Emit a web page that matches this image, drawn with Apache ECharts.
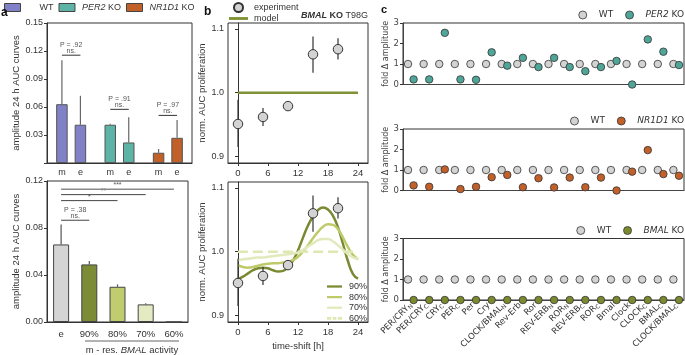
<!DOCTYPE html>
<html>
<head>
<meta charset="utf-8">
<script src="https://cdn.jsdelivr.net/npm/echarts@6/dist/echarts.min.js"></script>
<style>
  html, body { margin: 0; padding: 0; background: #fff; }
  #main { width: 685px; height: 355px; }
</style>
</head>
<body>
<div id="main"></div>
<script>
// ---- panel a, top: amplitude of 24 h AUC curves (m = model, e = experiment)
var genotypes = ['WT', 'PER2 KO', 'NR1D1 KO'];
var genoColors = ['#8081c7', '#5db4a6', '#c2602a'];
var ampModel = [0.063, 0.041, 0.011];
var ampExp = [0.041, 0.022, 0.027];
var ampModelTop = [0.110, 0.042, 0.015];
var ampExpTop = [0.072, 0.049, 0.046];
var ampPvals = ['P = .92', 'P = .91', 'P = .97'];
var ampBracketY = [0.1155, 0.0575, 0.051];

// ---- panel a, bottom: residual BMAL activity
var bmalCats = ['e', '90%', '80%', '70%', '60%'];
var bmalColors = ['#d4d4d4', '#7c8b35', '#c1cc6e', '#e4ebc2', '#ffffff'];
var bmalAmp = [0.066, 0.049, 0.030, 0.015, 0];
var bmalAmpTop = [0.083, 0.052, 0.032, 0.016, 0];
var bmalSigFrom = [0, 0, 0, 0];
var bmalSigTo = [1, 2, 3, 4];
var bmalSigY = [0.0866, 0.1033, 0.1084, 0.113];
var bmalSigText = ['ns.', '*', '**', '***'];

// ---- panel b: BMAL KO T98G proliferation
var expTime = [0, 5, 10, 15, 20];
var expMean = [0.951, 0.962, 0.979, 1.060, 1.068];
var expLow = [0.915, 0.948, 0.976, 1.031, 1.052];
var expHigh = [0.989, 0.976, 0.982, 1.088, 1.085];
var modelTime = [0, 24];
var modelValue = [1.0, 1.0];
var curveTime = [0, 1, 2, 3, 4, 5, 6, 7, 8, 9, 10, 11, 12, 13, 14, 15, 16, 17, 18, 19, 20, 21, 22, 23, 24];
var curve90 = [0.957, 0.961, 0.966, 0.971, 0.974, 0.975, 0.974, 0.971, 0.969, 0.970, 0.976, 0.986, 1.002, 1.022, 1.041, 1.055, 1.065, 1.069, 1.066, 1.056, 1.038, 1.012, 0.985, 0.965, 0.958];
var curve80 = [0.979, 0.976, 0.975, 0.976, 0.978, 0.980, 0.981, 0.982, 0.982, 0.983, 0.984, 0.987, 0.992, 1.000, 1.010, 1.021, 1.031, 1.039, 1.043, 1.042, 1.035, 1.022, 1.007, 0.995, 0.988];
var curve70 = [0.986, 0.988, 0.989, 0.990, 0.991, 0.991, 0.992, 0.993, 0.994, 0.995, 0.996, 0.997, 0.999, 1.003, 1.008, 1.013, 1.018, 1.020, 1.020, 1.016, 1.010, 1.003, 0.996, 0.991, 0.989];
var curve60Time = [0, 24];
var curve60 = [1.0, 1.0];
var timeTicks = [0, 6, 12, 18, 24];
var normTicks = [0.9, 1.0, 1.1];

// ---- panel c: fold change of amplitude per model variable
var clockCats = ['PER/CRY_N', 'PER/CRY_C', 'CRY_C', 'PER_C', 'Per', 'Cry', 'CLOCK/BMAL_N', 'Rev-Erb', 'Ror',
  'REV-ERB_N', 'ROR_N', 'REV-ERB_C', 'ROR_C', 'Bmal', 'Clock', 'CLOCK_C', 'BMAL_C', 'CLOCK/BMAL_C'];
var wtFold = [1, 1, 1, 1, 1, 1, 1, 1, 1, 1, 1, 1, 1, 1, 1, 1, 1, 1];
var per2Fold = [0.25, 0.25, 2.52, 0.25, 0.23, 1.57, 0.92, 1.3, 0.85, 1.3, 0.85, 0.65, 0.85, 1.15, 0, 2.2, 1.6, 0.95];
var nr1d1Fold = [0.25, 0.18, 1.03, 0.07, 0.18, 0.65, 0.76, 0.16, 0.6, 0.15, 0.63, 0.16, 0.63, 0, 0.92, 1.97, 0.8, 0.72];
var bmalFold = [0, 0, 0, 0, 0, 0, 0, 0, 0, 0, 0, 0, 0, 0, 0, 0, 0, 0];

var FA = 'Liberation Sans, Arial, sans-serif';
var FC = 'DejaVu Sans, Verdana, sans-serif';
var INK = '#333';
var BAR_W = 11.5;
var BAR_GAP = 7;
var LINE_ICON = 'path://M0,0 L20,0 L20,3 L0,3 Z';
var DASH_ICON = 'path://M0,0 L5.5,0 L5.5,3.6 L0,3.6 Z M7.5,0 L12.5,0 L12.5,3.6 L7.5,3.6 Z M14.5,0 L20,0 L20,3.6 L14.5,3.6 Z';

function pairs(xs, ys) {
  return xs.map(function (x, i) { return [x, ys[i]]; });
}

function subLabel(s) {
  var k = s.indexOf('_');
  return k < 0 ? s : s.slice(0, k) + '{sub|' + s.slice(k + 1) + '}';
}

function frameGrid(left, top, width, height) {
  return { left: left, top: top, width: width, height: height, show: true, borderColor: INK, borderWidth: 1, containLabel: false };
}

function valueY(idx, min, max, extra) {
  var ax = {
    type: 'value', gridIndex: idx, min: min, max: max,
    axisLine: { show: true, lineStyle: { color: INK } },
    axisTick: { show: true, length: 3, lineStyle: { color: INK } },
    axisLabel: { fontSize: 9, fontFamily: FA, color: INK, margin: 4 },
    splitLine: { show: false },
    nameLocation: 'middle', nameRotate: 90,
    nameTextStyle: { fontSize: 9.5, fontFamily: FA, color: INK }
  };
  return Object.assign(ax, extra || {});
}

// error bar drawn for grouped bars (m left, e right)
function groupedError(side) {
  return function (params, api) {
    var b = api.coord([api.value(0), api.value(1)]);
    var t = api.coord([api.value(0), api.value(2)]);
    var x = b[0] + side * (BAR_W + BAR_GAP) / 2;
    return { type: 'line', shape: { x1: x, y1: b[1], x2: x, y2: t[1] }, style: { stroke: '#666', lineWidth: 1.2 } };
  };
}

function simpleError(color) {
  return function (params, api) {
    var lo = api.coord([api.value(0), api.value(1)]);
    var hi = api.coord([api.value(0), api.value(2)]);
    return { type: 'line', shape: { x1: lo[0], y1: lo[1], x2: hi[0], y2: hi[1] }, style: { stroke: color, lineWidth: 1.2 } };
  };
}

var series = [];

// panel a top bars
series.push({
  type: 'bar', name: 'm', xAxisIndex: 0, yAxisIndex: 0, barWidth: BAR_W, barGap: (BAR_GAP / BAR_W * 100) + '%',
  data: ampModel, itemStyle: { color: function (p) { return genoColors[p.dataIndex]; }, borderColor: '#555', borderWidth: 1 },
  label: { show: true, position: 'bottom', distance: 5, formatter: 'm', fontSize: 9, fontFamily: FA, color: INK }
});
series.push({
  type: 'bar', name: 'e', xAxisIndex: 0, yAxisIndex: 0, barWidth: BAR_W,
  data: ampExp, itemStyle: { color: function (p) { return genoColors[p.dataIndex]; }, borderColor: '#555', borderWidth: 1 },
  label: { show: true, position: 'bottom', distance: 5, formatter: 'e', fontSize: 9, fontFamily: FA, color: INK }
});
series.push({
  type: 'custom', xAxisIndex: 0, yAxisIndex: 0, z: 1, renderItem: groupedError(-1),
  data: ampModel.map(function (v, i) { return [i, v, ampModelTop[i]]; })
});
series.push({
  type: 'custom', xAxisIndex: 0, yAxisIndex: 0, z: 1, renderItem: groupedError(1),
  data: ampExp.map(function (v, i) { return [i, v, ampExpTop[i]]; })
});
series.push({
  type: 'custom', xAxisIndex: 0, yAxisIndex: 0, z: 3,
  data: ampBracketY.map(function (y, i) { return [i, y]; }),
  renderItem: function (params, api) {
    var c = api.coord([api.value(0), api.value(1)]);
    var half = (BAR_W + BAR_GAP) / 2;
    return {
      type: 'group', children: [
        { type: 'line', shape: { x1: c[0] - half, y1: c[1], x2: c[0] + half, y2: c[1] }, style: { stroke: INK, lineWidth: 1 } },
        { type: 'text', x: c[0], y: c[1] - 0.5, style: { text: 'ns.', align: 'center', verticalAlign: 'bottom', fontSize: 7, fontFamily: FA, fill: '#555' } },
        { type: 'text', x: c[0], y: c[1] - 7, style: { text: ampPvals[params.dataIndex], align: 'center', verticalAlign: 'bottom', fontSize: 7, fontFamily: FA, fill: '#555' } }
      ]
    };
  }
});
// legend entries for panel a
genotypes.forEach(function (g, i) {
  series.push({ type: 'line', name: 'a-' + g, xAxisIndex: 0, yAxisIndex: 0, data: [], itemStyle: { color: genoColors[i] }, lineStyle: { color: genoColors[i] } });
});

// panel a bottom
series.push({
  type: 'bar', xAxisIndex: 1, yAxisIndex: 1, barWidth: 16, data: bmalAmp,
  itemStyle: { color: function (p) { return bmalColors[p.dataIndex]; }, borderColor: '#444', borderWidth: 1 }
});
series.push({
  type: 'custom', xAxisIndex: 1, yAxisIndex: 1, z: 1, renderItem: simpleError('#555'),
  data: bmalAmp.map(function (v, i) { return [i, v, bmalAmpTop[i]]; })
});
series.push({
  type: 'custom', xAxisIndex: 1, yAxisIndex: 1, z: 3,
  data: bmalSigY.map(function (y, i) { return [bmalSigFrom[i], y, bmalSigTo[i]]; }),
  renderItem: function (params, api) {
    var a = api.coord([api.value(0), api.value(1)]);
    var b = api.coord([api.value(2), api.value(1)]);
    var mid = (a[0] + b[0]) / 2;
    var kids = [
      { type: 'line', shape: { x1: a[0], y1: a[1], x2: b[0], y2: b[1] }, style: { stroke: params.dataIndex === 3 ? '#8a8a8a' : '#444', lineWidth: params.dataIndex === 3 ? 1.6 : 1 } },
      { type: 'text', x: mid, y: a[1] - 0.5, style: { text: bmalSigText[params.dataIndex], align: 'center', verticalAlign: 'bottom', fontSize: 7, fontFamily: FA, fill: '#555' } }
    ];
    if (params.dataIndex === 0) {
      kids.push({ type: 'text', x: mid, y: a[1] - 7, style: { text: 'P = .38', align: 'center', verticalAlign: 'bottom', fontSize: 7, fontFamily: FA, fill: '#555' } });
    }
    return { type: 'group', children: kids };
  }
});

// panel b top
series.push({
  type: 'line', name: 'model', xAxisIndex: 2, yAxisIndex: 2, data: pairs(modelTime, modelValue),
  symbol: 'none', lineStyle: { color: '#7f9236', width: 2.5 }, itemStyle: { color: '#7f9236' }
});
series.push({
  type: 'custom', xAxisIndex: 2, yAxisIndex: 2, z: 4, renderItem: simpleError(INK),
  data: expTime.map(function (t, i) { return [t, expLow[i], expHigh[i]]; })
});
series.push({
  type: 'scatter', name: 'experiment', xAxisIndex: 2, yAxisIndex: 2, z: 5, data: pairs(expTime, expMean),
  symbolSize: 9.5, itemStyle: { color: '#d3d3d3', borderColor: INK, borderWidth: 1, opacity: 1 }
});

// panel b bottom
var curveStyle = [
  ['90%', curveTime, curve90, '#7a8a33', 'solid'],
  ['80%', curveTime, curve80, '#bfcb6b', 'solid'],
  ['70%', curveTime, curve70, '#e2e9bc', 'solid'],
  ['60%', curve60Time, curve60, '#dfe7b3', 'dashed']
];
curveStyle.forEach(function (c) {
  series.push({
    type: 'line', name: c[0], xAxisIndex: 3, yAxisIndex: 3, data: pairs(c[1], c[2]), smooth: true,
    symbol: 'none', lineStyle: { color: c[3], width: 2.5, type: c[4] }, itemStyle: { color: c[3] }
  });
});
series.push({
  type: 'custom', xAxisIndex: 3, yAxisIndex: 3, z: 4, renderItem: simpleError(INK),
  data: expTime.map(function (t, i) { return [t, expLow[i], expHigh[i]]; })
});
series.push({
  type: 'scatter', name: 'experiment-b', xAxisIndex: 3, yAxisIndex: 3, z: 5, data: pairs(expTime, expMean),
  symbolSize: 9.5, itemStyle: { color: '#d3d3d3', borderColor: INK, borderWidth: 1, opacity: 1 }
});

// panel c
var koSets = [['PER2 KO', per2Fold, '#4fa597'], ['NR1D1 KO', nr1d1Fold, '#c2602a'], ['BMAL KO', bmalFold, '#7a8a2e']];
koSets.forEach(function (k, i) {
  series.push({
    type: 'scatter', name: 'WT', xAxisIndex: 4 + i, yAxisIndex: 4 + i, data: wtFold, symbolSize: 7.5, symbolOffset: [-2.8, 0],
    itemStyle: { color: '#d3d3d3', borderColor: INK, borderWidth: 0.8, opacity: 1 }, clip: false
  });
  series.push({
    type: 'scatter', name: k[0], xAxisIndex: 4 + i, yAxisIndex: 4 + i, data: k[1], symbolSize: 7.5, symbolOffset: [2.8, 0], z: 3,
    itemStyle: { color: k[2], borderColor: INK, borderWidth: 0.8, opacity: 1 }, clip: false
  });
});

var cGrids = [23, 129, 238.5];

var option = {
  animation: false,
  textStyle: { fontFamily: FA },
  grid: [
    frameGrid(47, 23, 145, 140),
    frameGrid(47, 181, 141, 141),
    frameGrid(228, 23, 140, 140),
    frameGrid(228, 182, 140, 140),
    frameGrid(403, cGrids[0], 281, 61.5),
    frameGrid(403, cGrids[1], 281, 61.5),
    frameGrid(403, cGrids[2], 281, 61.5)
  ],
  xAxis: [
    { type: 'category', gridIndex: 0, data: genotypes, axisLine: { lineStyle: { color: INK } }, axisTick: { show: false }, axisLabel: { show: false } },
    { type: 'category', gridIndex: 1, data: bmalCats, axisLine: { lineStyle: { color: INK } },
      axisTick: { alignWithLabel: true, length: 3, lineStyle: { color: INK } },
      axisLabel: { fontSize: 9.5, fontFamily: FA, color: INK, margin: 7 } },
    { type: 'value', gridIndex: 2, min: -2, max: 26, splitLine: { show: false }, axisLine: { lineStyle: { color: INK } },
      axisTick: { length: 3, customValues: timeTicks, lineStyle: { color: INK } },
      axisLabel: { customValues: timeTicks, fontSize: 9.5, fontFamily: FA, color: INK, margin: 5 } },
    { type: 'value', gridIndex: 3, min: -2, max: 26, splitLine: { show: false }, axisLine: { lineStyle: { color: INK } },
      axisTick: { length: 3, customValues: timeTicks, lineStyle: { color: INK } },
      axisLabel: { customValues: timeTicks, fontSize: 9.5, fontFamily: FA, color: INK, margin: 5 },
      name: 'time-shift [h]', nameLocation: 'middle', nameGap: 19, nameTextStyle: { fontSize: 9.5, fontFamily: FA, color: INK } }
  ].concat([4, 5, 6].map(function (g) {
    return {
      type: 'category', gridIndex: g, data: clockCats, axisLine: { lineStyle: { color: '#444' } },
      axisTick: { alignWithLabel: true, length: 3, interval: 0, lineStyle: { color: '#444' } },
      axisLabel: {
        show: g === 6, rotate: 45, interval: 0, fontSize: 8.5, fontFamily: FC, color: INK, margin: 4, formatter: subLabel,
        rich: { sub: { fontSize: 6, fontFamily: FC, color: INK, verticalAlign: 'bottom', padding: [4, 0, 0, 0] } }
      }
    };
  })),
  yAxis: [
    valueY(0, 0, 0.15, { interval: 0.03, name: 'amplitude 24 h AUC curves', nameGap: 22,
      axisLabel: { fontSize: 9, fontFamily: FA, color: INK, margin: 4, formatter: function (v) { return v === 0 ? '' : v.toFixed(2); } } }),
    valueY(1, 0, 0.12, { interval: 0.04, name: 'amplitude 24 h AUC curves', nameGap: 22,
      axisLabel: { fontSize: 9, fontFamily: FA, color: INK, margin: 4, formatter: function (v) { return v.toFixed(2); } } }),
    valueY(2, 0.89, 1.109, { name: 'norm. AUC proliferation', nameGap: 20,
      axisTick: { show: true, length: 3, customValues: normTicks, lineStyle: { color: INK } },
      axisLabel: { customValues: normTicks, fontSize: 9, fontFamily: FA, color: INK, margin: 4, formatter: function (v) { return v.toFixed(1); } } }),
    valueY(3, 0.89, 1.109, { name: 'norm. AUC proliferation', nameGap: 20,
      axisTick: { show: true, length: 3, customValues: normTicks, lineStyle: { color: INK } },
      axisLabel: { customValues: normTicks, fontSize: 9, fontFamily: FA, color: INK, margin: 4, formatter: function (v) { return v.toFixed(1); } } })
  ].concat([4, 5, 6].map(function (g) {
    return valueY(g, 0, 3, { interval: 1, name: 'fold \u0394 amplitude', nameGap: 11,
      axisLine: { show: true, lineStyle: { color: '#444' } },
      nameTextStyle: { fontSize: 8, fontFamily: FC, color: '#444' },
      axisLabel: { fontSize: 8.5, fontFamily: FC, color: '#444', margin: 4 } });
  })),
  legend: [
    {
      left: 4, top: 3, padding: 0, itemWidth: 16, itemHeight: 8, itemGap: 5, icon: 'rect',
      itemStyle: { borderColor: '#444', borderWidth: 1 },
      data: genotypes.map(function (g) { return 'a-' + g; }),
      formatter: function (n) {
        var g = n.slice(2);
        if (g === 'WT') return '{w|WT}';
        var parts = g.split(' ');
        return '{i|' + parts[0] + '}{n| ' + parts[1] + '}';
      },
      textStyle: {
        fontSize: 9, fontFamily: FA, color: INK,
        rich: {
          w: { fontSize: 9, fontFamily: FA, color: INK, padding: [0, 6, 0, 14] },
          i: { fontSize: 9, fontFamily: FA, color: INK, fontStyle: 'italic', padding: [0, 0, 0, 2] },
          n: { fontSize: 9, fontFamily: FA, color: INK }
        }
      }
    },
    {
      left: 229, top: 2, padding: 0, orient: 'vertical', itemWidth: 19, itemHeight: 9, itemGap: 1,
      data: [{ name: 'experiment' }, { name: 'model', icon: LINE_ICON }],
      textStyle: { fontSize: 9, fontFamily: FA, color: INK, padding: [0, 0, 0, 1] }
    },
    {
      left: 327, top: 282, padding: 0, orient: 'vertical', itemWidth: 15, itemHeight: 8, itemGap: 1.6,
      data: [{ name: '90%', icon: LINE_ICON }, { name: '80%', icon: LINE_ICON }, { name: '70%', icon: LINE_ICON }, { name: '60%', icon: DASH_ICON }],
      textStyle: { fontSize: 9, fontFamily: FA, color: INK, padding: [0, 0, 0, 2] }
    }
  ].concat(koSets.map(function (k, i) {
    var parts = k[0].split(' ');
    return {
      right: 1, top: cGrids[i] - 12.5, padding: 0, itemWidth: 8, itemHeight: 8, itemGap: 12, icon: 'circle',
      itemStyle: { borderWidth: 0.8, borderColor: INK },
      data: ['WT', k[0]],
      formatter: function (n) { return n === 'WT' ? '{n|WT}' : '{i|' + parts[0] + '}{n| ' + parts[1] + '}'; },
      textStyle: {
        fontSize: 9, fontFamily: FC, color: INK, padding: [0, 0, 0, 7],
        rich: {
          i: { fontSize: 9, fontFamily: FC, color: INK, fontStyle: 'italic' },
          n: { fontSize: 9, fontFamily: FC, color: INK }
        }
      }
    };
  })),
  graphic: [
    { type: 'text', x: 1, y: 7, z: 10, style: { text: 'a', fontSize: 12, fontWeight: 'bold', fontFamily: FA, fill: '#111' } },
    { type: 'text', x: 204, y: 6, style: { text: 'b', fontSize: 12, fontWeight: 'bold', fontFamily: FA, fill: '#111' } },
    { type: 'text', x: 381, y: 4, style: { text: 'c', fontSize: 11, fontWeight: 'bold', fontFamily: FA, fill: '#111' } },
    { type: 'text', x: 368, y: 16, style: {
        text: '{bi|BMAL}{b| KO} T98G', align: 'right', verticalAlign: 'middle', fontSize: 9, fontFamily: FA, fill: INK,
        rich: {
          bi: { fontSize: 9, fontFamily: FA, fontWeight: 'bold', fontStyle: 'italic', color: '#111' },
          b: { fontSize: 9, fontFamily: FA, fontWeight: 'bold', color: '#111' }
        } } },
    { type: 'line', shape: { x1: 85, y1: 341, x2: 179, y2: 341 }, style: { stroke: '#666', lineWidth: 1 } },
    { type: 'text', x: 132, y: 350, style: {
        text: 'm - res. {i|BMAL} activity', align: 'center', verticalAlign: 'middle', fontSize: 9.5, fontFamily: FA, fill: INK,
        rich: { i: { fontSize: 9.5, fontFamily: FA, fontStyle: 'italic', color: INK } } } }
  ],
  series: series
};

var chart = echarts.init(document.getElementById('main'));
chart.setOption(option);
</script>
</body>
</html>
